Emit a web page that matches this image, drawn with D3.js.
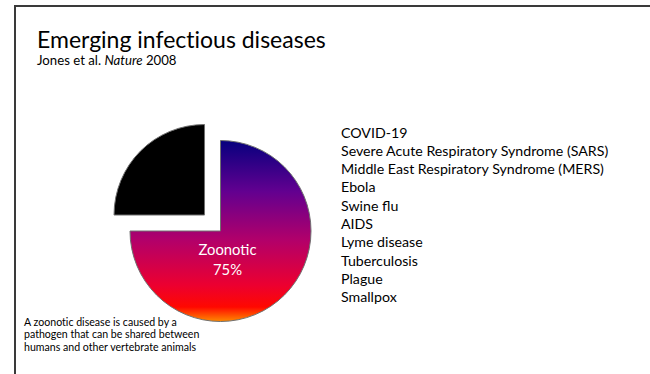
<!DOCTYPE html>
<html>
<head>
<meta charset="utf-8">
<script src="https://cdn.jsdelivr.net/npm/d3@7"></script>
<style>
  html, body { margin: 0; padding: 0; background: #fff; }
  svg { display: block; font-family: Lato, "Open Sans", sans-serif; }
</style>
</head>
<body>
<svg id="chart" width="650" height="374"></svg>
<script>
// Share of emerging infectious disease events (Jones et al. 2008)
const categories = ["Zoonotic", "Non-zoonotic"];
const shares = [75, 25];
const examples = [
  "COVID-19",
  "Severe Acute Respiratory Syndrome (SARS)",
  "Middle East Respiratory Syndrome (MERS)",
  "Ebola",
  "Swine flu",
  "AIDS",
  "Lyme disease",
  "Tuberculosis",
  "Plague",
  "Smallpox"
];
const footnote = [
  "A zoonotic disease is caused by a",
  "pathogen that can be shared between",
  "humans and other vertebrate animals"
];

const svg = d3.select("#chart");

// slide frame
svg.append("path")
  .attr("d", "M15,374 V6 H650")
  .attr("fill", "none")
  .attr("stroke", "#3a3a3a")
  .attr("stroke-width", 2);

// title block
svg.append("text")
  .attr("x", 37).attr("y", 48)
  .attr("font-size", 23)
  .attr("fill", "#000")
  .style("font-variant-ligatures", "none")
  .text("Emerging infectious diseases");

const sub = svg.append("text")
  .attr("x", 37).attr("y", 65)
  .attr("font-size", 13.2)
  .attr("fill", "#000");
sub.append("tspan").text("Jones et al. ");
sub.append("tspan").attr("font-style", "italic").text("Nature");
sub.append("tspan").text(" 2008");

// pie
const cx = 220.5, cy = 231, radius = 90.5, explode = 22.6;

const defs = svg.append("defs");
const grad = defs.append("linearGradient")
  .attr("id", "zoo-grad")
  .attr("gradientUnits", "userSpaceOnUse")
  .attr("x1", 0).attr("x2", 0)
  .attr("y1", -radius).attr("y2", radius);
[
  [0.00, "#06007e"],
  [0.28, "#620090"],
  [0.55, "#b2006a"],
  [0.80, "#ec0030"],
  [0.92, "#ff0800"],
  [1.00, "#ff8a00"]
].forEach(([o, c]) => grad.append("stop").attr("offset", o).attr("stop-color", c));

const pie = d3.pie().sort(null).startAngle(0).endAngle(2 * Math.PI);
const arc = d3.arc().innerRadius(0).outerRadius(radius);
const arcs = pie(shares);

const g = svg.append("g").attr("transform", `translate(${cx},${cy})`);

g.selectAll("path.slice")
  .data(arcs)
  .join("path")
  .attr("class", "slice")
  .attr("d", arc)
  .attr("transform", (d, i) => {
    if (i === 0) return null;
    const a = (d.startAngle + d.endAngle) / 2;
    return `translate(${Math.sin(a) * explode},${-Math.cos(a) * explode})`;
  })
  .attr("fill", (d, i) => i === 0 ? "url(#zoo-grad)" : "#000")
  .attr("stroke", "#707070")
  .attr("stroke-width", 1);

// label inside the zoonotic slice
const lbl = g.append("text")
  .attr("x", 7).attr("y", 24)
  .attr("text-anchor", "middle")
  .attr("font-size", 14.8)
  .attr("fill", "#fff");
lbl.append("tspan").attr("x", 7).attr("dy", 0).text(categories[0]);
lbl.append("tspan").attr("x", 7).attr("dy", 19.5).text(shares[0] + "%");

// examples of zoonotic diseases
svg.append("g")
  .selectAll("text")
  .data(examples)
  .join("text")
  .attr("x", 341)
  .attr("y", (d, i) => 137.5 + i * 18.3)
  .attr("font-size", 14.2)
  .attr("fill", "#000")
  .text(d => d);

// footnote
svg.append("g")
  .selectAll("text")
  .data(footnote)
  .join("text")
  .attr("x", 24)
  .attr("y", (d, i) => 326 + i * 12.4)
  .attr("font-size", 10.6)
  .attr("fill", "#000")
  .style("font-variant-ligatures", "none")
  .text(d => d);
</script>
</body>
</html>
